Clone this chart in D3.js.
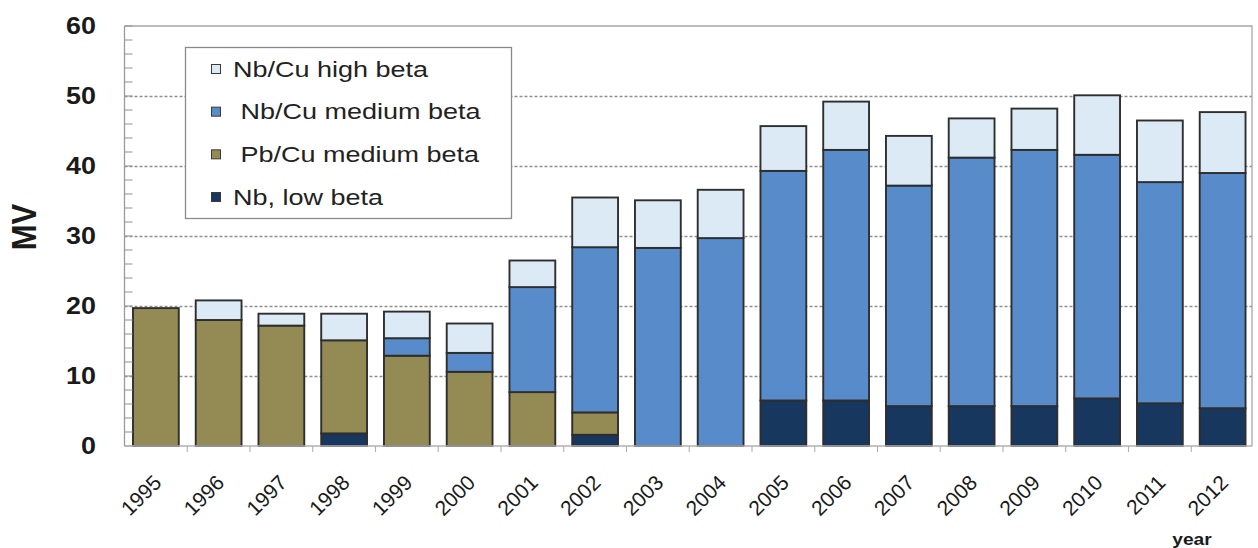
<!DOCTYPE html>
<html>
<head>
<meta charset="utf-8">
<script src="https://cdn.jsdelivr.net/npm/d3@7"></script>
<style>
  html, body { margin: 0; padding: 0; background: #fff; }
  svg { display: block; }
  text { font-family: "Liberation Sans", Arial, sans-serif; }
</style>
</head>
<body>
<svg id="chart" width="1258" height="548"></svg>
<script>
// Accelerating voltage installed per year, MV, by cavity type
const years = ["1995","1996","1997","1998","1999","2000","2001","2002","2003",
               "2004","2005","2006","2007","2008","2009","2010","2011","2012"];
const nbLowBeta   = [0, 0, 0, 1.8, 0, 0, 0, 1.6, 0, 0, 6.5, 6.5, 5.7, 5.7, 5.7, 6.8, 6.1, 5.4];
const pbCuMedium  = [19.7, 18.0, 17.2, 13.3, 12.9, 10.6, 7.7, 3.2, 0, 0, 0, 0, 0, 0, 0, 0, 0, 0];
const nbCuMedium  = [0, 0, 0, 0, 2.5, 2.7, 15.0, 23.6, 28.3, 29.7, 32.8, 35.8, 31.5, 35.5, 36.6, 34.8, 31.6, 33.6];
const nbCuHigh    = [0, 2.8, 1.7, 3.8, 3.8, 4.2, 3.8, 7.1, 6.8, 6.9, 6.4, 6.9, 7.1, 5.6, 5.9, 8.5, 8.8, 8.7];

// Series in stacking order (bottom to top)
const seriesKeys   = ["low", "pb", "med", "high"];
const seriesValues = { low: nbLowBeta, pb: pbCuMedium, med: nbCuMedium, high: nbCuHigh };
const seriesColors = { low: "#17375e", pb: "#948a54", med: "#588bca", high: "#dbeaf4" };

// Legend order (top to bottom) and labels
const legendKeys   = ["high", "med", "pb", "low"];
const legendLabels = ["Nb/Cu high beta", " Nb/Cu medium beta", " Pb/Cu medium beta", "Nb, low beta"];

const yTicks = [0, 10, 20, 30, 40, 50, 60];
const yAxisTitle = "MV";
const xAxisTitle = "year";

const svg = d3.select("#chart");

const plotLeft = 124.5, plotRight = 1254, plotTop = 26, plotBottom = 446;

const x = d3.scaleBand()
  .domain(years)
  .range([plotLeft, plotRight])
  .paddingInner(0.27)
  .paddingOuter(0.135);

const y = d3.scaleLinear().domain([0, 60]).range([plotBottom, plotTop]);

// Stack layout
const table = years.map((yr, i) => {
  const row = { year: yr };
  seriesKeys.forEach(k => { row[k] = seriesValues[k][i]; });
  return row;
});
const stacked = d3.stack().keys(seriesKeys)(table);

// Dotted gridlines
svg.append("g")
  .selectAll("line")
  .data(yTicks.filter(t => t > 0 && t < 60))
  .join("line")
  .attr("x1", plotLeft).attr("x2", plotRight - 2)
  .attr("y1", d => Math.round(y(d)) + 0.5).attr("y2", d => Math.round(y(d)) + 0.5)
  .attr("stroke", "#8f8f8f")
  .attr("stroke-width", 1.3)
  .attr("stroke-dasharray", "3,2");

// Plot frame (top and right edges)
svg.append("path")
  .attr("d", `M${plotLeft},${y(60)}H${plotRight - 2}V${plotBottom}`)
  .attr("fill", "none")
  .attr("stroke", "#a8a8a8")
  .attr("stroke-width", 1.3);

// Stacked bars
const layers = svg.append("g")
  .selectAll("g")
  .data(stacked)
  .join("g")
  .attr("fill", d => seriesColors[d.key]);

layers.selectAll("rect")
  .data(d => d.filter(s => s[1] - s[0] > 0))
  .join("rect")
  .attr("x", d => x(d.data.year))
  .attr("width", x.bandwidth())
  .attr("y", d => y(d[1]))
  .attr("height", d => y(d[0]) - y(d[1]))
  .attr("stroke", "#2e2e2e")
  .attr("stroke-width", 1.9);

// Y axis line with inward minor ticks
const yAxisG = svg.append("g");
yAxisG.append("line")
  .attr("x1", plotLeft).attr("x2", plotLeft)
  .attr("y1", y(60)).attr("y2", plotBottom)
  .attr("stroke", "#9a9a9a").attr("stroke-width", 1.3);
yAxisG.selectAll("line.tick")
  .data(d3.range(0, 61, 2))
  .join("line")
  .attr("class", "tick")
  .attr("x1", plotLeft).attr("x2", plotLeft + 8)
  .attr("y1", d => y(d)).attr("y2", d => y(d))
  .attr("stroke", "#9a9a9a").attr("stroke-width", 1.1);

// Y tick labels
svg.append("g")
  .selectAll("text")
  .data(yTicks)
  .join("text")
  .attr("transform", d => `translate(96,${y(d)}) scale(1.12,1)`)
  .attr("text-anchor", "end")
  .attr("dominant-baseline", "central")
  .attr("font-size", 24)
  .attr("font-weight", "bold")
  .attr("fill", "#1a1a1a")
  .text(d => d);

// Y axis title
svg.append("text")
  .attr("transform", `translate(36,227) scale(1.15,1) rotate(-90)`)
  .attr("text-anchor", "middle")
  .attr("font-size", 31)
  .attr("font-weight", "bold")
  .attr("fill", "#1a1a1a")
  .text(yAxisTitle);

// X axis line and category-boundary ticks
const step = x.step();
svg.append("line")
  .attr("x1", plotLeft).attr("x2", plotRight - 2)
  .attr("y1", plotBottom).attr("y2", plotBottom)
  .attr("stroke", "#b0b0b0").attr("stroke-width", 1.3);
svg.append("g")
  .selectAll("line")
  .data(years.slice(1))
  .join("line")
  .attr("x1", d => x(d) + x.bandwidth() / 2 - step / 2)
  .attr("x2", d => x(d) + x.bandwidth() / 2 - step / 2)
  .attr("y1", plotBottom).attr("y2", plotBottom + 6)
  .attr("stroke", "#b0b0b0").attr("stroke-width", 1.1);

// X tick labels, rotated
svg.append("g")
  .selectAll("text")
  .data(years)
  .join("text")
  .attr("transform", d => `translate(${x(d) + x.bandwidth() / 2 + 7},484) rotate(-45)`)
  .attr("text-anchor", "end")
  .attr("font-size", 21)
  .attr("fill", "#1a1a1a")
  .text(d => d);

// X axis title
svg.append("text")
  .attr("transform", "translate(1192,545) scale(1.2,1)")
  .attr("text-anchor", "middle")
  .attr("font-size", 16)
  .attr("font-weight", "bold")
  .attr("fill", "#1a1a1a")
  .text(xAxisTitle);

// Legend
const legend = svg.append("g");
legend.append("rect")
  .attr("x", 185.5).attr("y", 47.5)
  .attr("width", 326).attr("height", 171)
  .attr("fill", "#fff")
  .attr("stroke", "#8a8a8a")
  .attr("stroke-width", 1.3);

const rowY = d3.scalePoint().domain(legendKeys).range([69, 197]);

const items = legend.selectAll("g.item")
  .data(legendKeys)
  .join("g")
  .attr("class", "item");

items.append("rect")
  .attr("x", 211.5)
  .attr("y", d => rowY(d) - 4.5)
  .attr("width", 9).attr("height", 9)
  .attr("fill", d => seriesColors[d])
  .attr("stroke", "#3a3a3a")
  .attr("stroke-width", 1);

items.append("text")
  .attr("transform", d => `translate(233,${rowY(d)}) scale(1.2,1)`)
  .attr("dominant-baseline", "central")
  .attr("font-size", 22.5)
  .attr("fill", "#222")
  .style("white-space", "pre")
  .text((d, i) => legendLabels[i]);
</script>
</body>
</html>
